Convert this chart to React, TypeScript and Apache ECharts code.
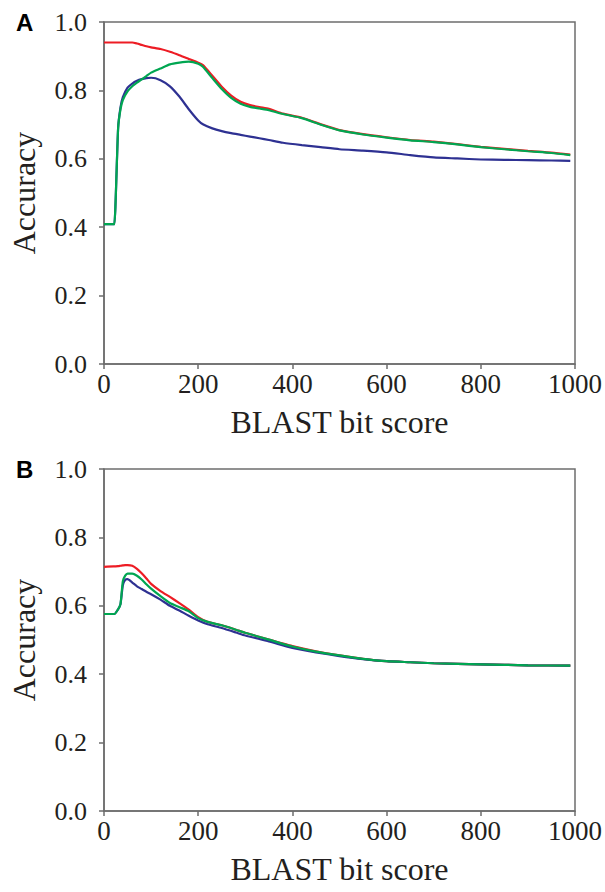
import React, { useEffect, useRef } from "react";
import * as echarts from "echarts";

const xA = [0, 20, 22, 30, 35, 40, 50, 60, 70, 80, 90, 100, 120, 140, 160, 180, 200, 210, 230, 250, 270, 290, 310, 330, 350, 380, 420, 460, 500, 550, 600, 650, 700, 750, 800, 850, 900, 950, 990];
const redA = [0.94, 0.94, 0.94, 0.94, 0.94, 0.94, 0.94, 0.94, 0.937, 0.933, 0.929, 0.926, 0.921, 0.913, 0.903, 0.892, 0.881, 0.874, 0.843, 0.811, 0.785, 0.767, 0.757, 0.751, 0.746, 0.732, 0.72, 0.701, 0.684, 0.672, 0.663, 0.655, 0.65, 0.643, 0.635, 0.629, 0.623, 0.618, 0.612];
const greenA = [0.409, 0.409, 0.409, 0.69, 0.745, 0.772, 0.797, 0.812, 0.823, 0.832, 0.842, 0.852, 0.864, 0.876, 0.881, 0.884, 0.878, 0.869, 0.836, 0.804, 0.778, 0.761, 0.752, 0.747, 0.742, 0.731, 0.719, 0.7, 0.683, 0.671, 0.662, 0.654, 0.649, 0.642, 0.634, 0.628, 0.622, 0.617, 0.611];
const blueA = [0.409, 0.409, 0.409, 0.69, 0.75, 0.78, 0.808, 0.82, 0.828, 0.833, 0.836, 0.837, 0.83, 0.812, 0.782, 0.745, 0.712, 0.701, 0.689, 0.681, 0.675, 0.67, 0.665, 0.66, 0.655, 0.647, 0.64, 0.634, 0.628, 0.624, 0.619, 0.611, 0.604, 0.601, 0.598, 0.597, 0.596, 0.595, 0.594];

const xB = [0, 20, 22, 30, 35, 40, 45, 50, 60, 70, 80, 90, 100, 120, 140, 160, 180, 200, 220, 250, 280, 300, 350, 400, 450, 500, 550, 600, 650, 700, 800, 900, 990];
const redB = [0.714, 0.715, 0.715, 0.716, 0.717, 0.718, 0.719, 0.719, 0.717, 0.708, 0.695, 0.68, 0.664, 0.643, 0.626, 0.608, 0.589, 0.567, 0.553, 0.543, 0.53, 0.521, 0.501, 0.482, 0.467, 0.455, 0.445, 0.438, 0.435, 0.432, 0.429, 0.426, 0.425];
const greenB = [0.576, 0.576, 0.576, 0.59, 0.605, 0.672, 0.688, 0.694, 0.694, 0.688, 0.677, 0.663, 0.65, 0.628, 0.608, 0.596, 0.584, 0.564, 0.553, 0.543, 0.53, 0.521, 0.501, 0.481, 0.466, 0.455, 0.445, 0.438, 0.435, 0.432, 0.429, 0.426, 0.425];
const blueB = [0.576, 0.576, 0.576, 0.59, 0.605, 0.66, 0.676, 0.678, 0.668, 0.657, 0.649, 0.641, 0.634, 0.618, 0.6, 0.586, 0.571, 0.557, 0.546, 0.535, 0.522, 0.513, 0.496, 0.477, 0.464, 0.453, 0.444, 0.438, 0.435, 0.432, 0.429, 0.426, 0.425];

const panelLabels = ["A", "B"];
const xName = "BLAST bit score";
const yName = "Accuracy";

const RED = "#ed1c24";
const GREEN = "#00a651";
const BLUE = "#2e3192";
const SERIF = "Times New Roman, Liberation Serif, serif";
const AXIS = "#6d6d6d";
const TEXT = "#231f20";

const zip = (xs: number[], ys: number[]) => xs.map((x, i) => [x, ys[i]]);

export default function App() {
  const ref = useRef<HTMLDivElement>(null);
  useEffect(() => {
    if (!ref.current) return;
    const chart = echarts.init(ref.current, null, { renderer: "svg" });
    const grids = [
      { left: 100, top: 22, width: 476, height: 342 },
      { left: 100, top: 469, width: 476, height: 342 },
    ];
    const xAxisCfg = (gi: number) => ({
      type: "value",
      gridIndex: gi,
      min: 0,
      max: 1000,
      interval: 200,
      name: xName,
      nameLocation: "middle",
      nameGap: 42,
      nameTextStyle: { fontFamily: SERIF, fontSize: 32, color: TEXT },
      axisLine: { show: true, lineStyle: { color: AXIS, width: 1.5 } },
      axisTick: { show: true, length: 5, inside: false, lineStyle: { color: AXIS, width: 1.5 } },
      axisLabel: {
        fontFamily: SERIF,
        fontSize: 27,
        color: TEXT,
        margin: 6,
        formatter: (v: number) => String(v),
      },
      splitLine: { show: false },
    });
    const yAxisCfg = (gi: number) => ({
      type: "value",
      gridIndex: gi,
      min: 0,
      max: 1,
      interval: 0.2,
      name: yName,
      nameLocation: "middle",
      nameGap: 64,
      nameTextStyle: { fontFamily: SERIF, fontSize: 32, color: TEXT },
      axisLine: { show: true, lineStyle: { color: AXIS, width: 1.5 } },
      axisTick: { show: true, length: 5, inside: false, lineStyle: { color: AXIS, width: 1.5 } },
      axisLabel: {
        fontFamily: SERIF,
        fontSize: 26,
        color: TEXT,
        margin: 17,
        formatter: (v: number) => v.toFixed(1),
      },
      splitLine: { show: false },
    });
    const line = (name: string, xs: number[], ys: number[], color: string, gi: number, z: number) => ({
      type: "line",
      name,
      xAxisIndex: gi,
      yAxisIndex: gi,
      data: zip(xs, ys),
      showSymbol: false,
      symbol: "none",
      smooth: 0.2,
      z,
      lineStyle: { color, width: 2.2 },
      itemStyle: { color },
    });
    chart.setOption({
      animation: false,
      backgroundColor: "#ffffff",
      grid: grids.map((g) => ({ ...g, show: true, borderColor: AXIS, borderWidth: 1.5, backgroundColor: "transparent" })),
      xAxis: [xAxisCfg(0), xAxisCfg(1)],
      yAxis: [yAxisCfg(0), yAxisCfg(1)],
      series: [
        line("red A", xA, redA, RED, 0, 2),
        line("blue A", xA, blueA, BLUE, 0, 3),
        line("green A", xA, greenA, GREEN, 0, 4),
        line("red B", xB, redB, RED, 1, 2),
        line("blue B", xB, blueB, BLUE, 1, 3),
        line("green B", xB, greenB, GREEN, 1, 4),
      ],
      graphic: [
        {
          type: "text",
          left: 16,
          top: 10,
          style: { text: panelLabels[0], fontFamily: "Liberation Sans, Arial, sans-serif", fontWeight: "bold", fontSize: 24, fill: "#000" },
        },
        {
          type: "text",
          left: 16,
          top: 457,
          style: { text: panelLabels[1], fontFamily: "Liberation Sans, Arial, sans-serif", fontWeight: "bold", fontSize: 24, fill: "#000" },
        },
      ],
    });
    return () => chart.dispose();
  }, []);
  return (
    <div
      ref={ref}
      style={{ position: "absolute", left: 0, top: 0, width: 605, height: 892, background: "#fff" }}
    />
  );
}
